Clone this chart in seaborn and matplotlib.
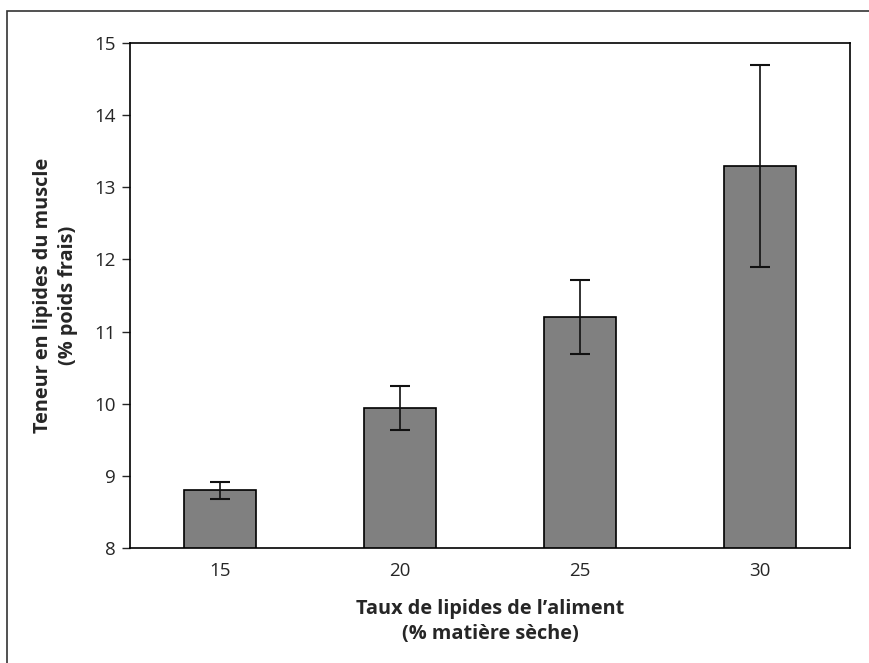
import matplotlib
matplotlib.use("Agg")
import matplotlib.pyplot as plt
import seaborn as sns
import pandas as pd

taux = ["15", "20", "25", "30"]
teneur = [8.80, 9.94, 11.20, 13.30]
erreur = [0.12, 0.31, 0.51, 1.40]

sns.set_theme(style="white")
plt.rcParams['font.family'] = ['Open Sans', 'DejaVu Sans']

df = pd.DataFrame({"taux": taux, "teneur": teneur})

fig = plt.figure(figsize=(8.69, 6.63), dpi=100)
ax = fig.add_axes([0.1496, 0.1735, 0.8284, 0.7615])

sns.barplot(data=df, x="taux", y="teneur", ax=ax, color="#808080",
            saturation=1, width=0.4, edgecolor="black", linewidth=1.2)
ax.errorbar(range(len(taux)), teneur, yerr=erreur, fmt="none",
            ecolor="#111111", elinewidth=1.2, capsize=7.5, capthick=1.5)

ax.set_ylim(8, 15)
ax.set_xlim(-0.5, 3.5)
ax.set_yticks(range(8, 16))
ax.tick_params(axis="y", direction="out", length=6, width=1, labelsize=13.5, pad=4, left=True)
ax.tick_params(axis="x", length=0, labelsize=13.5, pad=10)
for sp in ax.spines.values():
    sp.set_color("black")
    sp.set_linewidth(1.2)

ax.set_xlabel("Taux de lipides de l\u2019aliment\n(% matière sèche)",
              fontsize=14.3, fontweight="bold", labelpad=14, linespacing=1.3)
ax.set_ylabel("Teneur en lipides du muscle\n(% poids frais)",
              fontsize=14.3, fontweight="bold", labelpad=12, linespacing=1.3)

# cadre de la figure (bords droit et bas hors champ)
fig.patches.append(plt.Rectangle((7 / 869, -0.1), 1.2, 1 - 11 / 663 + 0.1,
                                 transform=fig.transFigure, fill=False,
                                 edgecolor="#333333", linewidth=1.2))

fig.savefig("out.png", dpi=100)
